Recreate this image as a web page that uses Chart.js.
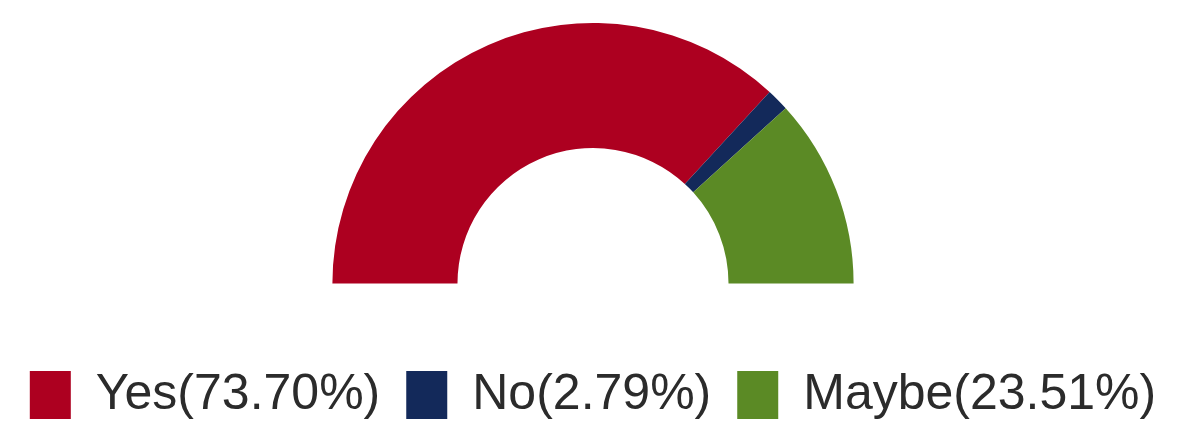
<!DOCTYPE html>
<html><head><meta charset="utf-8">
<script src="https://cdn.jsdelivr.net/npm/chart.js@4/dist/chart.umd.min.js"></script>
<style>html,body{margin:0;padding:0;background:#fff}#wrap{width:1186px;height:423px}</style>
</head><body><div id="wrap"><canvas id="c" width="1186" height="423"></canvas></div>
<script>
const categories = ['Yes', 'No', 'Maybe'];
const values = [73.70, 2.79, 23.51];
const colors = ['#ad0020', '#13295a', '#5b8a25'];
const labels = categories.map((c, i) => c + '(' + values[i].toFixed(2) + '%)');

new Chart(document.getElementById('c'), {
  type: 'doughnut',
  data: { labels: labels, datasets: [{ data: values, backgroundColor: colors, borderWidth: 0 }] },
  options: {
    responsive: false, animation: false,
    rotation: -90, circumference: 180, cutout: '52%',
    layout: { padding: { top: 23, bottom: -7 } },
    plugins: {
      tooltip: { enabled: false },
      legend: {
        position: 'bottom',
        title: { display: true, text: ' ', font: { size: 12 }, padding: { top: 0, bottom: 46 } },
        labels: {
          boxWidth: 41, boxHeight: 48, padding: 26,
          color: '#2b2b2b',
          font: { family: '"Liberation Sans", Arial, sans-serif', size: 50 }
        }
      }
    }
  }
});
</script></body></html>
